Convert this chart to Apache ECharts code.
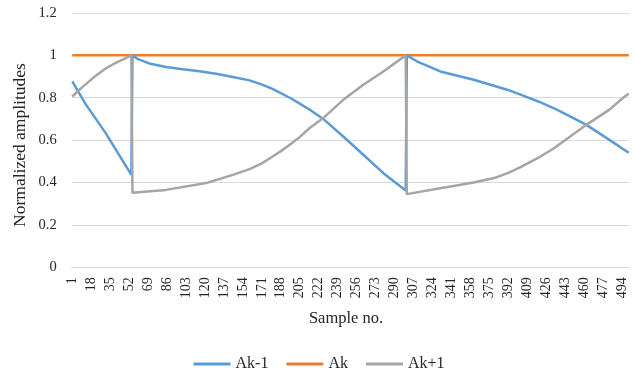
<!DOCTYPE html>
<html>
<head>
<meta charset="utf-8">
<script src="https://cdn.jsdelivr.net/npm/echarts@6/dist/echarts.min.js"></script>
<style>
  html, body { margin: 0; padding: 0; background: #fff; }
  #chart { width: 638px; height: 383px; }
</style>
</head>
<body>
<div id="chart"></div>
<script>
// Sample axis: samples 1..500, labelled every 17th sample
const sampleCount = 500;
const sampleNumbers = Array.from({ length: sampleCount }, (_, i) => String(i + 1));

// Ak-1 (previous amplitude), read at selected samples
const akPrevSamples = [1, 13, 31, 54, 55, 60, 70, 85, 100, 115, 130, 145, 160, 170, 180, 188, 196, 205, 214, 226, 244, 262, 280, 300,
                       301, 310, 331, 361, 391, 403, 420, 435, 450, 462, 483, 500];
const akPrevValues  = [0.877, 0.77, 0.633, 0.436, 1.0, 0.982, 0.962, 0.945, 0.935, 0.925, 0.913, 0.898, 0.882, 0.864, 0.843, 0.822, 0.800, 0.772, 0.743, 0.700, 0.617, 0.531, 0.444, 0.362,
                       1.0, 0.972, 0.924, 0.885, 0.838, 0.815, 0.780, 0.745, 0.705, 0.672, 0.600, 0.540];

// Ak (current amplitude)
const akSamples = [1, 500];
const akValues  = [1, 1];

// Ak+1 (next amplitude)
const akNextSamples = [1, 10, 20, 30, 40, 54, 55, 85, 121, 145, 160, 171, 180, 188, 196, 205, 214, 226, 244, 262, 280, 300,
                       301, 331, 361, 380, 392, 403, 420, 432, 441, 462, 483, 495, 500];
const akNextValues  = [0.806, 0.850, 0.895, 0.935, 0.965, 1.0, 0.352, 0.365, 0.397, 0.436, 0.463, 0.490, 0.520, 0.548, 0.578, 0.615, 0.657, 0.704, 0.790, 0.861, 0.924, 1.0,
                       0.345, 0.373, 0.400, 0.422, 0.445, 0.472, 0.520, 0.558, 0.592, 0.672, 0.745, 0.800, 0.820];

// Y axis ticks
const yMin = 0, yMax = 1.2, yStep = 0.2;

const pairs = (xs, ys) => xs.map((s, i) => [String(s), ys[i]]);

const serifFont = '"Liberation Serif", "Times New Roman", serif';
const gridColor = '#d9d9d9';
const textColor = '#262626';

const chart = echarts.init(document.getElementById('chart'), null, { renderer: 'canvas' });

chart.setOption({
  animation: false,
  backgroundColor: '#ffffff',
  textStyle: { fontFamily: serifFont },
  grid: { left: 71.7, right: 8.7, top: 13, bottom: 115.8, containLabel: false },
  xAxis: {
    type: 'category',
    data: sampleNumbers,
    boundaryGap: true,
    axisLine: { show: true, lineStyle: { color: gridColor, width: 1 } },
    axisTick: { show: false },
    axisLabel: {
      interval: 16,
      rotate: 90,
      margin: 10,
      fontSize: 14,
      fontFamily: serifFont,
      color: textColor
    },
    splitLine: { show: false }
  },
  yAxis: {
    type: 'value',
    min: yMin,
    max: yMax,
    interval: yStep,
    axisLine: { show: false },
    axisTick: { show: false },
    axisLabel: {
      margin: 15,
      fontSize: 14.5,
      fontFamily: serifFont,
      color: textColor,
      formatter: v => String(Math.round(v * 10) / 10)
    },
    splitLine: { show: true, lineStyle: { color: gridColor, width: 1 } }
  },
  legend: {
    bottom: 6,
    left: 'center',
    icon: 'rect',
    itemWidth: 37,
    itemHeight: 3,
    itemGap: 18,
    textStyle: { fontSize: 16, fontFamily: serifFont, color: textColor },
    data: ['Ak-1', 'Ak', 'Ak+1']
  },
  graphic: [
    {
      type: 'text',
      x: 20,
      y: 145,
      rotation: Math.PI / 2,
      style: {
        text: 'Normalized amplitudes',
        font: '17.5px ' + serifFont,
        fill: textColor,
        textAlign: 'center',
        textVerticalAlign: 'middle'
      }
    },
    {
      type: 'text',
      x: 346,
      y: 319,
      style: {
        text: 'Sample no.',
        font: '16.5px ' + serifFont,
        fill: textColor,
        textAlign: 'center',
        textVerticalAlign: 'middle'
      }
    }
  ],
  series: [
    {
      name: 'Ak-1',
      type: 'line',
      data: pairs(akPrevSamples, akPrevValues),
      showSymbol: false,
      symbol: 'none',
      lineStyle: { color: '#5B9BD5', width: 2.5 },
      itemStyle: { color: '#5B9BD5' },
      z: 3
    },
    {
      name: 'Ak',
      type: 'line',
      data: pairs(akSamples, akValues),
      showSymbol: false,
      symbol: 'none',
      lineStyle: { color: '#ED7D31', width: 2.5 },
      itemStyle: { color: '#ED7D31' },
      z: 2
    },
    {
      name: 'Ak+1',
      type: 'line',
      data: pairs(akNextSamples, akNextValues),
      showSymbol: false,
      symbol: 'none',
      lineStyle: { color: '#A5A5A5', width: 2.5 },
      itemStyle: { color: '#A5A5A5' },
      z: 4
    }
  ]
});
</script>
</body>
</html>
